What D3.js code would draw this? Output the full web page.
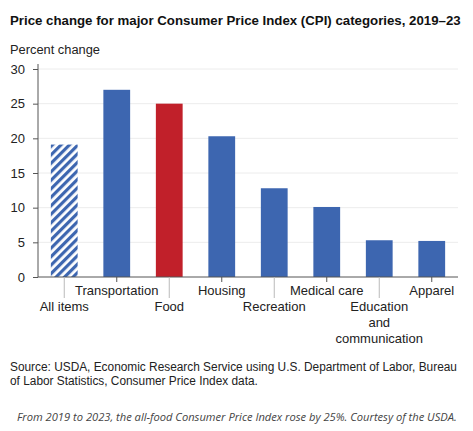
<!DOCTYPE html>
<html><head><meta charset="utf-8">
<script src="https://cdn.jsdelivr.net/npm/d3@7"></script>
<style>body{margin:0;background:#fff;} svg{display:block;}</style>
</head><body><svg id="c" width="473" height="431"></svg>
<script>
const categories = ["All items","Transportation","Food","Housing","Recreation","Medical care","Education and communication","Apparel"];
const values = [19.1, 27.0, 25.0, 20.3, 12.8, 10.1, 5.3, 5.2];
const yTicks = [0,5,10,15,20,25,30];
const title = "Price change for major Consumer Price Index (CPI) categories, 2019–23";
const yLabel = "Percent change";
const sourceLines = ["Source: USDA, Economic Research Service using U.S. Department of Labor, Bureau","of Labor Statistics, Consumer Price Index data."];
const caption = "From 2019 to 2023, the all-food Consumer Price Index rose by 25%. Courtesy of the USDA.";

const svg = d3.select("#c");
const font = "'Liberation Sans', Arial, Helvetica, sans-serif";
const blue = "#3d66b0", red = "#c1202a";

const x = d3.scaleBand().domain(categories).range([38, 458]).paddingInner(0.49).paddingOuter(0.245);
const y = d3.scaleLinear().domain([0, 30]).range([277, 69]);

function fit(sel, target){
  const w = sel.node().getComputedTextLength();
  const fs = parseFloat(sel.attr("font-size"));
  sel.attr("font-size", (fs*target/w).toFixed(2));
}

const defs = svg.append("defs");
const pat = defs.append("pattern").attr("id","hatch").attr("patternUnits","userSpaceOnUse")
  .attr("width",6).attr("height",6).attr("patternTransform","rotate(45)");
pat.append("rect").attr("width",6).attr("height",6).attr("fill","#fff");
pat.append("rect").attr("width",3.2).attr("height",6).attr("fill",blue);

const tt = svg.append("text").attr("x",10).attr("y",25).attr("font-family",font).attr("font-weight","bold")
  .attr("font-size",14).attr("fill","#111").text(title);
fit(tt, 451);
const yl = svg.append("text").attr("x",10).attr("y",54).attr("font-family",font).attr("font-size",13.5).attr("fill","#222").text(yLabel);
fit(yl, 90);

// gridlines
svg.append("g").selectAll("line").data(yTicks.filter(d=>d>0)).join("line")
  .attr("x1",38).attr("x2",458).attr("y1",d=>y(d)).attr("y2",d=>y(d))
  .attr("stroke","#ececec").attr("stroke-width",1);

// y axis
const ya = svg.append("g").attr("transform","translate(38,0)")
  .call(d3.axisLeft(y).tickValues(yTicks).tickSize(5).tickPadding(8));
ya.select(".domain").remove();
ya.selectAll(".tick line").attr("stroke","#555");
ya.selectAll("text").attr("font-family",font).attr("font-size",13).attr("fill","#222");
svg.append("line").attr("x1",38).attr("x2",38).attr("y1",64).attr("y2",277).attr("stroke","#555");

// bars
svg.append("g").selectAll("rect").data(categories).join("rect")
  .attr("x",d=>x(d)).attr("width",x.bandwidth())
  .attr("y",(d,i)=>y(values[i])).attr("height",(d,i)=>y(0)-y(values[i]))
  .attr("fill",(d,i)=>i===0?"url(#hatch)":(d==="Food"?red:blue));

// x axis
svg.append("line").attr("x1",38).attr("x2",458).attr("y1",277).attr("y2",277).attr("stroke","#555");
const xa = svg.append("g").attr("transform","translate(0,277)")
  .call(d3.axisBottom(x).tickSize(5).tickFormat(""));
xa.select(".domain").remove();
xa.selectAll(".tick line").attr("stroke",(d,i)=>i%2===0?"#bbb":"#555")
  .attr("y2",(d,i)=>i%2===0?21:5);
xa.selectAll(".tick").each(function(d,i){
  const g = d3.select(this);
  const words = d==="Education and communication" ? ["Education","and","communication"] : [d];
  const t = g.append("text").attr("text-anchor","middle").attr("font-family",font).attr("font-size",13).attr("fill","#222");
  const y0 = i%2===0 ? 34 : 18;
  words.forEach((w,k)=>t.append("tspan").attr("x",0).attr("y",y0+k*16).text(w));
});

const sl = sourceLines.map((s,k)=>svg.append("text").attr("x",10).attr("y",371+k*14).attr("font-family",font)
  .attr("font-size",12.5).attr("fill","#222").text(s));
fit(sl[0], 447);
sl[1].attr("font-size", sl[0].attr("font-size"));
const cp = svg.append("text").attr("x",17).attr("y",421).attr("font-family","'Open Sans', sans-serif").attr("font-style","italic")
  .attr("font-size",11.5).attr("fill","#444").text(caption);
fit(cp, 440);
</script></body></html>
